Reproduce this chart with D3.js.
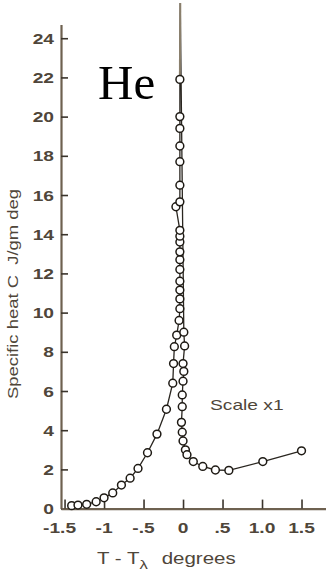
<!DOCTYPE html>
<html>
<head>
<meta charset="utf-8">
<script src="https://cdn.jsdelivr.net/npm/d3@7"></script>
<style>
 body { margin:0; background:#fff; }
 text { font-family: "Liberation Sans", Arial, sans-serif; white-space: pre; }
</style>
</head>
<body>
<div id="container"></div>
<script>

// T - T_lambda below the lambda point, rising to the peak
const leftX = [-1.41,-1.33,-1.22,-1.10,-1.0,-0.89,-0.78,-0.67,-0.57,-0.45,-0.33,-0.21,-0.13,-0.12,-0.11,-0.08,-0.05,
  -0.04,-0.04,-0.04,-0.04,-0.04,-0.04,-0.04,-0.04,-0.04,-0.04,-0.09,-0.04,-0.04,-0.04,-0.04,-0.04,-0.04,-0.04];
const leftC = [0.15,0.18,0.22,0.35,0.55,0.8,1.2,1.55,2.05,2.85,3.8,5.07,6.4,7.4,8.26,8.85,9.6,
  10.2,10.7,11.15,11.6,12.2,12.7,13.1,13.6,13.9,14.2,15.4,15.65,16.5,17.7,18.5,19.4,20.0,21.9];

// above the lambda point, falling off
const rightX = [0.01,0.02,0.0,0.01,0.0,-0.01,-0.01,-0.02,-0.01,0.0,0.03,0.05,0.13,0.25,0.41,0.58,1.01,1.5];
const rightC = [9.0,8.3,7.4,7.0,6.5,5.8,5.2,4.4,3.9,3.45,3.0,2.75,2.4,2.15,1.97,1.95,2.4,2.95];

// the curve runs off the top of the chart at the lambda point
const peakX = -0.035;
const peakC = 25.8;

const xTicks = [-1.5,-1,-0.5,0,0.5,1.0,1.5];
const xTickLabels = ["-1.5","-1","-.5","0",".5","1.0","1.5"];
const yTicks = [0,2,4,6,8,10,12,14,16,18,20,22,24];

const width = 326, height = 574;
const axisColor = "#6e6150";
const labelColor = "#4f463a";
const stretch = 1.28;   // the labels in the picture are drawn wide

const x = d3.scaleLinear().domain([-1.545,1.81]).range([61,326]);
const y = d3.scaleLinear().domain([0,24.7]).range([508.6,24.5]);

const svg = d3.select("#container").append("svg")
  .attr("width",width).attr("height",height);

// y axis
const yAxis = svg.append("g").attr("transform","translate(61,0)")
  .call(d3.axisRight(y).tickValues(yTicks).tickSize(7).tickSizeOuter(0).tickFormat(""));
yAxis.select(".domain").attr("stroke",axisColor).attr("stroke-width",2.2);
yAxis.selectAll(".tick line").attr("stroke","#3a342c").attr("stroke-width",1.6);
svg.append("g").selectAll("text").data(yTicks).enter().append("text")
  .attr("transform",d => `translate(54,${y(d)+5.5}) scale(${stretch},1)`)
  .attr("text-anchor","end")
  .attr("fill",labelColor)
  .style("font-size","15px")
  .style("font-weight","bold")
  .text(d => d);

// x axis
const xAxis = svg.append("g").attr("transform","translate(0,508.6)")
  .call(d3.axisTop(x).tickValues(xTicks).tickSize(9).tickSizeOuter(0).tickFormat(""));
xAxis.select(".domain").attr("stroke",axisColor).attr("stroke-width",2.4);
xAxis.selectAll(".tick line").attr("stroke","#3a342c").attr("stroke-width",1.6);
svg.append("g").selectAll("text").data(xTicks).enter().append("text")
  .attr("transform",(d,i) => `translate(${x(d) - (i===0 ? 5 : 0)},533) scale(${stretch},1)`)
  .attr("text-anchor","middle")
  .attr("fill",labelColor)
  .style("font-size","15px")
  .style("font-weight","bold")
  .text((d,i) => xTickLabels[i]);

// curve
const pts = leftX.map((d,i) => [d,leftC[i]])
  .concat([[peakX,peakC]])
  .concat(rightX.map((d,i) => [d,rightC[i]]));

const line = d3.line().x(d => x(d[0])).y(d => y(d[1]));
svg.append("path").datum(pts)
  .attr("d",line)
  .attr("fill","none")
  .attr("stroke","#2a2620")
  .attr("stroke-width",1.3);

// top of the spike drawn grey-brown
svg.append("path").datum([[leftX[leftX.length-1],leftC[leftC.length-1]],[peakX,peakC]])
  .attr("d",line)
  .attr("fill","none")
  .attr("stroke","#8a7f6c")
  .attr("stroke-width",2);

const marks = leftX.map((d,i) => [d,leftC[i]]).concat(rightX.map((d,i) => [d,rightC[i]]));
svg.append("g").selectAll("circle").data(marks).enter().append("circle")
  .attr("cx",d => x(d[0]))
  .attr("cy",d => y(d[1]))
  .attr("r",3.9)
  .attr("fill","#fff")
  .attr("stroke","#1e1a14")
  .attr("stroke-width",1.5);

// labels
svg.append("text")
  .attr("transform","translate(18,294) rotate(-90)")
  .attr("text-anchor","middle")
  .attr("fill",labelColor)
  .style("font-size","14.5px")
  .attr("textLength",210)
  .attr("lengthAdjust","spacingAndGlyphs")
  .text("Specific heat C  J/gm deg");

const xl = svg.append("text")
  .attr("transform",`translate(97,564) scale(${stretch},1)`)
  .attr("fill",labelColor)
  .style("font-size","16px");
xl.append("tspan").text("T - T");
xl.append("tspan").attr("dy",5).style("font-size","13px").text("λ");
xl.append("tspan").attr("dy",-5).attr("dx",2).text("  degrees");

svg.append("text")
  .attr("x",98).attr("y",99)
  .style("font-family","'Liberation Serif', 'Times New Roman', serif")
  .style("font-size","49px")
  .attr("fill","#000")
  .text("He");

svg.append("text")
  .attr("transform",`translate(210,410) scale(${stretch},1)`)
  .attr("fill",labelColor)
  .style("font-size","15px")
  .text("Scale x1");

</script>
</body>
</html>
